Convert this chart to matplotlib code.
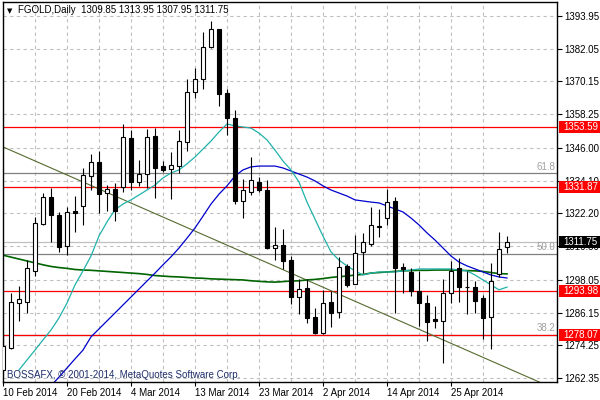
"""
FGOLD daily candlestick chart (MetaTrader style) with moving averages,
support/resistance levels and Fibonacci lines.
"""

import matplotlib
matplotlib.use('Agg')  # Non-interactive backend
import matplotlib.pyplot as plt
from matplotlib.patches import Rectangle
from matplotlib.transforms import blended_transform_factory
import numpy as np

# Daily bars
opens = [1265.3, 1273.4, 1289.7, 1290.1, 1301.4, 1318.2, 1328.3, 1321.5, 1310.5, 1323.0,
         1325.0, 1335.9, 1340.8, 1329.5, 1330.9, 1331.9, 1349.7, 1333.7, 1336.5, 1350.3,
         1339.5, 1338.2, 1339.5, 1348.3, 1366.2, 1370.9, 1382.6, 1389.1, 1365.9, 1356.8,
         1326.8, 1330.1, 1333.5, 1330.7, 1309.5, 1310.7, 1305.3, 1291.9, 1294.9, 1284.4,
         1278.8, 1290.0, 1286.2, 1303.2, 1296.5, 1308.1, 1311.1, 1317.6, 1320.4, 1326.7,
         1302.8, 1301.0, 1294.0, 1289.5, 1283.8, 1283.2, 1293.1, 1302.5, 1295.5, 1295.5,
         1291.3, 1284.4, 1300.2, 1309.85]
highs = [1277.3, 1293.4, 1295.8, 1305.3, 1321.0, 1329.7, 1331.3, 1322.8, 1324.4, 1328.5,
         1338.6, 1343.7, 1345.0, 1332.5, 1333.1, 1354.6, 1352.5, 1341.6, 1352.8, 1353.1,
         1341.4, 1344.4, 1352.5, 1370.9, 1374.9, 1388.0, 1392.1, 1389.4, 1367.3, 1359.8,
         1334.6, 1342.6, 1335.5, 1334.3, 1317.4, 1316.4, 1306.7, 1298.2, 1298.2, 1287.7,
         1294.3, 1294.0, 1306.4, 1303.7, 1314.3, 1315.2, 1324.6, 1323.8, 1331.1, 1328.0,
         1304.0, 1302.2, 1301.4, 1292.5, 1288.5, 1298.3, 1305.0, 1305.9, 1301.4, 1297.7,
         1292.5, 1304.1, 1315.5, 1313.95]
lows = [1264.0, 1273.0, 1283.2, 1285.9, 1299.4, 1318.0, 1311.9, 1308.3, 1307.1, 1315.3,
        1318.0, 1330.7, 1322.2, 1323.2, 1319.5, 1330.1, 1330.7, 1332.3, 1331.5, 1327.9,
        1337.3, 1327.4, 1337.0, 1345.0, 1364.0, 1367.4, 1382.4, 1361.2, 1350.7, 1325.6,
        1320.4, 1328.9, 1330.1, 1309.3, 1305.3, 1301.9, 1289.1, 1285.6, 1282.5, 1278.2,
        1278.2, 1281.0, 1284.1, 1295.3, 1296.4, 1300.4, 1310.5, 1313.7, 1318.0, 1285.9,
        1293.1, 1292.3, 1281.4, 1275.9, 1280.4, 1267.9, 1289.7, 1290.1, 1285.6, 1285.9,
        1276.5, 1272.8, 1299.2, 1307.95]
closes = [1274.0, 1290.1, 1291.0, 1302.2, 1318.6, 1328.3, 1321.5, 1310.1, 1322.6, 1322.4,
          1336.2, 1341.0, 1329.1, 1330.9, 1323.2, 1349.9, 1333.7, 1336.5, 1349.9, 1338.6,
          1338.0, 1339.8, 1348.4, 1366.2, 1371.2, 1382.6, 1389.1, 1365.6, 1356.8, 1326.8,
          1330.7, 1334.3, 1330.7, 1309.5, 1310.7, 1305.0, 1291.9, 1294.6, 1284.1, 1278.6,
          1289.5, 1285.9, 1302.8, 1296.2, 1307.7, 1311.7, 1317.9, 1317.4, 1326.2, 1302.2,
          1301.9, 1294.1, 1289.7, 1282.8, 1283.2, 1293.1, 1301.4, 1295.5, 1295.3, 1290.4,
          1284.1, 1297.7, 1309.1, 1311.75]

# Moving averages as drawn (NaN = not on the chart)
ma_fast = [np.nan, np.nan, 1265.3, 1268.9, 1272.5, 1276.2, 1279.8, 1284.2, 1289.6, 1296.2,
           1301.3, 1306.7, 1314.0, 1319.1, 1323.5, 1325.6, 1327.1, 1328.9, 1330.7, 1332.5,
           1335.1, 1336.9, 1338.0, 1340.2, 1342.7, 1345.6, 1348.5, 1351.8, 1354.7, 1354.0,
           1353.6, 1353.2, 1351.4, 1348.9, 1345.2, 1341.2, 1338.0, 1333.6, 1326.3, 1320.1,
           1313.9, 1308.2, 1305.2, 1303.1, 1301.3, 1299.8, 1300.5, 1300.9, 1300.9, 1300.9,
           1301.3, 1301.6, 1302.0, 1302.0, 1302.0, 1302.0, 1302.0, 1301.6, 1301.3, 1299.8,
           1298.0, 1296.2, 1294.4, 1295.4]
ma_mid = [np.nan, np.nan, np.nan, np.nan, np.nan, 1256.6, 1259.5, 1262.7, 1266.0, 1269.3,
          1272.5, 1277.3, 1280.2, 1283.1, 1286.0, 1288.9, 1291.8, 1294.7, 1297.6, 1300.5,
          1303.5, 1306.4, 1309.6, 1313.2, 1316.9, 1321.2, 1325.6, 1329.2, 1332.2, 1335.8,
          1338.0, 1339.1, 1339.4, 1339.4, 1339.4, 1338.7, 1337.6, 1336.5, 1335.4, 1334.0,
          1332.2, 1330.7, 1329.6, 1328.5, 1327.1, 1326.7, 1326.3, 1326.0, 1324.9, 1323.8,
          1322.7, 1320.5, 1318.0, 1315.1, 1312.5, 1309.6, 1306.7, 1304.5, 1303.1, 1302.0,
          1300.9, 1299.8, 1299.1, 1298.7]
ma_slow = [1307.0, 1306.3, 1305.6, 1304.9, 1304.2, 1303.5, 1302.9, 1302.5, 1302.2, 1301.8,
           1301.6, 1301.5, 1301.3, 1301.1, 1300.9, 1300.7, 1300.5, 1300.3, 1300.0, 1299.6,
           1299.4, 1299.2, 1299.1, 1298.9, 1298.7, 1298.6, 1298.4, 1298.3, 1298.2, 1298.1,
           1298.0, 1297.7, 1297.5, 1297.3, 1297.2, 1297.4, 1297.6, 1297.7, 1298.0, 1298.2,
           1298.5, 1298.9, 1299.2, 1299.4, 1299.8, 1300.0, 1300.5, 1300.7, 1300.9, 1301.1,
           1301.3, 1301.4, 1301.5, 1301.5, 1301.6, 1301.6, 1301.6, 1301.5, 1301.4, 1301.3,
           1301.1, 1300.7, 1300.3, 1300.2]

# Levels and drawn objects
red_levels = [1353.59, 1331.87, 1293.98, 1278.07]
fib_labels = ['61.8', '50.0', '38.2']
fib_levels = [1336.8, 1307.4, 1278.0]
bid_price = 1311.75
trend_bars = [-0.5, 70.0]
trend_prices = [1347.0, 1257.1]

y_ticks = [1262.35, 1274.25, 1286.15, 1298.05, 1310.30, 1322.20,
           1334.10, 1346.00, 1358.25, 1370.15, 1382.05, 1393.95]
date_bars = [0, 8, 16, 24, 32, 40, 48, 56]
date_labels = ['10 Feb 2014', '20 Feb 2014', '4 Mar 2014', '13 Mar 2014',
               '23 Mar 2014', '2 Apr 2014', '14 Apr 2014', '25 Apr 2014']

title = 'FGOLD,Daily  1309.85 1313.95 1307.95 1311.75'
copyright_text = 'BOSSAFX, \u00a9 2001-2014, MetaQuotes Software Corp.'

plt.rcParams['font.family'] = ['Liberation Sans', 'DejaVu Sans']
FS = 7

fig = plt.figure(figsize=(6, 4), dpi=100)
ax = fig.add_axes([2.5 / 600, 18 / 400, 554.5 / 600, 380 / 400])
ax.set_xlim(-0.0625, 69.25)
ax.set_ylim(1260.9, 1399.04)

# Grid
ax.set_xticks(date_bars)
ax.set_xticklabels(date_labels, fontsize=FS, ha='left')
ax.set_xticks([b for b in range(4, 65, 8)], minor=True)
ax.tick_params(axis='x', which='major', length=3, width=0.8, pad=1.5, color='black')
ax.tick_params(axis='x', which='minor', length=0)
ax.yaxis.tick_right()
ax.set_yticks(y_ticks)
ax.set_yticklabels([f'{v:.2f}' for v in y_ticks], fontsize=FS)
ax.tick_params(axis='y', length=3.5, width=0.8, pad=1.5, color='black')
ax.grid(True, which='both', linestyle=(0, (3, 3)), color='#c0c0c0', linewidth=0.8)
ax.set_axisbelow(True)
for s in ax.spines.values():
    s.set_linewidth(1.0)

# Horizontal levels
ax.axhline(bid_price, color='#c0c0c0', linewidth=0.9, zorder=1)
for lvl in fib_levels:
    ax.axhline(lvl, color='#808080', linewidth=0.9, zorder=1)
for lvl in red_levels:
    ax.axhline(lvl, color='#ff0000', linewidth=0.9, zorder=2)

# Trend line
ax.plot(trend_bars, trend_prices, color='#556b2f', linewidth=0.8, zorder=2)

# Moving averages
bars_x = np.arange(len(closes))
ax.plot(bars_x, ma_slow, color='#006400', linewidth=1.2, zorder=2)
ax.plot(bars_x, ma_mid, color='#0000cd', linewidth=0.9, zorder=2)
ax.plot(bars_x, ma_fast, color='#20b2aa', linewidth=0.9, zorder=2)

# Candles
body_w = 0.5
for i, (o, h, l, c) in enumerate(zip(opens, highs, lows, closes)):
    ax.vlines(i, l, h, color='black', linewidth=0.8, zorder=3)
    bottom = min(o, c)
    height = max(abs(c - o), 0.25)
    face = 'white' if c >= o else 'black'
    ax.add_patch(Rectangle((i - body_w / 2, bottom), body_w, height,
                           facecolor=face, edgecolor='black', linewidth=0.8, zorder=4))

# Fibonacci labels
tr = blended_transform_factory(ax.transAxes, ax.transData)
for lab, lvl in zip(fib_labels, fib_levels):
    ax.text(0.997, lvl + 0.6, lab, transform=tr, ha='right', va='bottom',
            fontsize=FS, color='#a0a0a0')

# Price boxes on the right scale
def price_box(price, face):
    ax.add_patch(Rectangle((1.003, price - 2.2), 0.08, 4.4, transform=tr,
                           facecolor=face, edgecolor='none', clip_on=False, zorder=10))
    ax.text(1.011, price, f'{price:.2f}', transform=tr, ha='left', va='center',
            fontsize=FS, color='white', clip_on=False, zorder=11)

for lvl in red_levels:
    price_box(lvl, '#ff0000')
price_box(bid_price, 'black')

# Header and copyright
ax.text(0.008, 0.977, '\u25bc', transform=ax.transAxes, fontsize=5,
        family='DejaVu Sans', ha='left', va='center', color='black')
ax.text(0.028, 0.978, title, transform=ax.transAxes, fontsize=FS,
        ha='left', va='center', color='black')
ax.text(0.008, 0.018, copyright_text, transform=ax.transAxes, fontsize=FS,
        ha='left', va='center', color='#1f2f6b')

fig.savefig('out.png', dpi=100)
plt.close(fig)
